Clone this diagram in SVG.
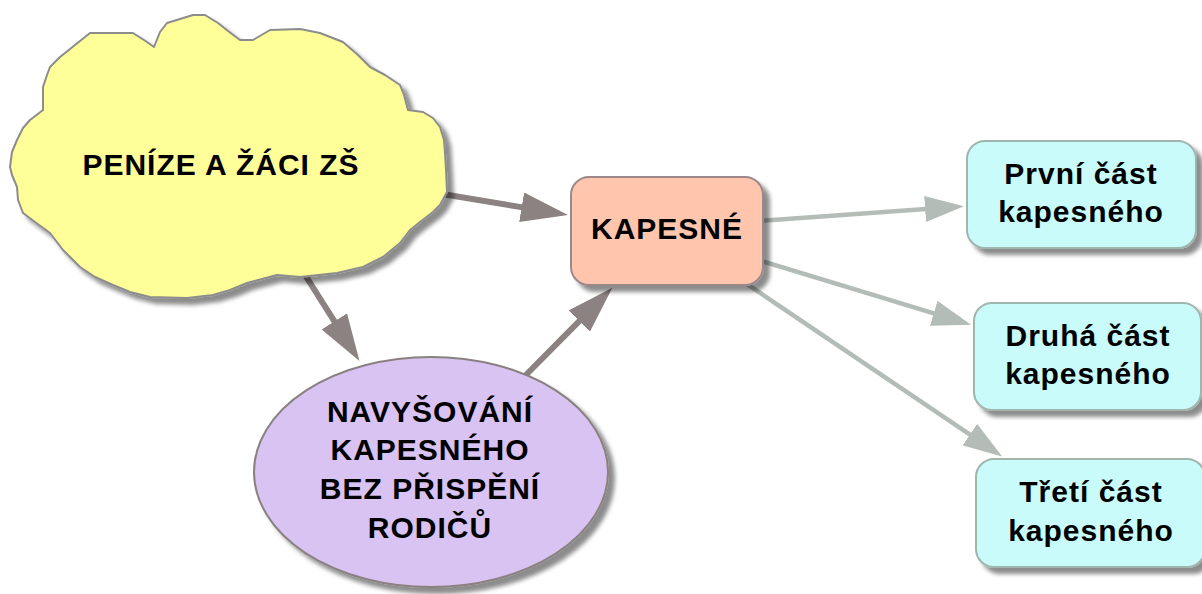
<svg xmlns="http://www.w3.org/2000/svg" width="1202" height="594" viewBox="0 0 1202 594">
<defs>
<style>
.lbl{font-family:"Liberation Sans",Arial,sans-serif;font-weight:bold;font-size:30px;letter-spacing:1px;fill:#000;text-anchor:middle}
.dark{stroke:#8c8282;stroke-width:6;fill:none}
.light{stroke:#b3bcb6;stroke-width:4.5;fill:none}
.sh{filter:url(#shadow)}
</style>
<filter id="shadow" x="-10%" y="-10%" width="125%" height="125%">
<feDropShadow dx="6" dy="6" stdDeviation="2" flood-color="#000" flood-opacity="0.45"/>
</filter>
<marker id="ahDark" markerUnits="userSpaceOnUse" viewBox="0 -15 47 30" markerWidth="47" markerHeight="30" refX="1" refY="0" orient="auto">
<path d="M0,-15 L47,0 L0,15 z" fill="#8c8282"/>
</marker>
<marker id="ahLight" markerUnits="userSpaceOnUse" viewBox="0 -13 39 26" markerWidth="39" markerHeight="26" refX="1" refY="0" orient="auto">
<path d="M0,-13 L39,0 L0,13 z" fill="#b3bcb6"/>
</marker>
</defs>
<rect width="1202" height="594" fill="#fff"/>
<g id="connectors">
<line class="dark" x1="430" y1="192" x2="522.6" y2="207.4" marker-end="url(#ahDark)"/>
<line class="dark" x1="295" y1="259" x2="334.9" y2="322.2" marker-end="url(#ahDark)"/>
<line class="dark" x1="515" y1="386" x2="580" y2="320.4" marker-end="url(#ahDark)"/>
<line class="light" x1="745" y1="222" x2="926.1" y2="208.9" marker-end="url(#ahLight)"/>
<line class="light" x1="745" y1="256" x2="934.7" y2="313.6" marker-end="url(#ahLight)"/>
<line class="light" x1="735" y1="276" x2="970.7" y2="435.2" marker-end="url(#ahLight)"/>
</g>
<g id="node-penize">
<path class="sh" fill="#ffff99" stroke="#8c8c8c" stroke-width="2" stroke-linejoin="round" d="M154,47 L160,32 L167,23 L193,15 L205,15 L218,23 L228,31 L240,40 L253,40 L270,30 L300,29 L320,33 L343,42 L358,55 L370,67 L385,75 L400,85 L404,95 L408,110 L423,112 L433,118 L440,127 L444,140 L445,153 L446,170 L447,192 L440,205 L433,212 L420,222 L410,230 L400,243 L383,257 L363,267 L337,273 L300,277 L277,275 L262,279 L247,283 L230,290 L213,295 L187,298 L150,297 L130,292 L113,285 L95,277 L80,267 L63,250 L50,233 L35,222 L23,213 L18,200 L17,187 L12,175 L10,167 L12,152 L17,140 L23,128 L30,120 L43,110 L43,95 L43,87 L47,75 L50,67 L60,57 L75,45 L90,33 L133,33 L147,42 Z"/>
<text class="lbl" x="221" y="175">PENÍZE A ŽÁCI ZŠ</text>
</g>
<g id="node-kapesne">
<rect class="sh" x="571" y="177" width="192" height="108" rx="18" fill="#ffc5ad" stroke="#9c8888" stroke-width="2"/>
<text class="lbl" x="667" y="239">KAPESNÉ</text>
</g>
<g id="node-navysovani">
<ellipse class="sh" cx="431" cy="472" rx="177" ry="115" fill="#d8c3f2" stroke="#8a8080" stroke-width="2"/>
<text class="lbl" x="430" y="422">NAVYŠOVÁNÍ</text>
<text class="lbl" x="430" y="460">KAPESNÉHO</text>
<text class="lbl" x="430" y="499">BEZ PŘISPĚNÍ</text>
<text class="lbl" x="430" y="538">RODIČŮ</text>
</g>
<g id="node-prvni">
<rect class="sh" x="967" y="141" width="229" height="107" rx="18" fill="#c9fbfb" stroke="#9fb5ad" stroke-width="2"/>
<text class="lbl" x="1081" y="184">První část</text>
<text class="lbl" x="1081" y="222">kapesného</text>
</g>
<g id="node-druha">
<rect class="sh" x="974" y="303" width="227" height="107" rx="18" fill="#c9fbfb" stroke="#9fb5ad" stroke-width="2"/>
<text class="lbl" x="1088" y="346">Druhá část</text>
<text class="lbl" x="1088" y="384">kapesného</text>
</g>
<g id="node-treti">
<rect class="sh" x="976" y="459" width="229" height="108" rx="18" fill="#c9fbfb" stroke="#9fb5ad" stroke-width="2"/>
<text class="lbl" x="1091" y="502">Třetí část</text>
<text class="lbl" x="1091" y="541">kapesného</text>
</g>
</svg>
